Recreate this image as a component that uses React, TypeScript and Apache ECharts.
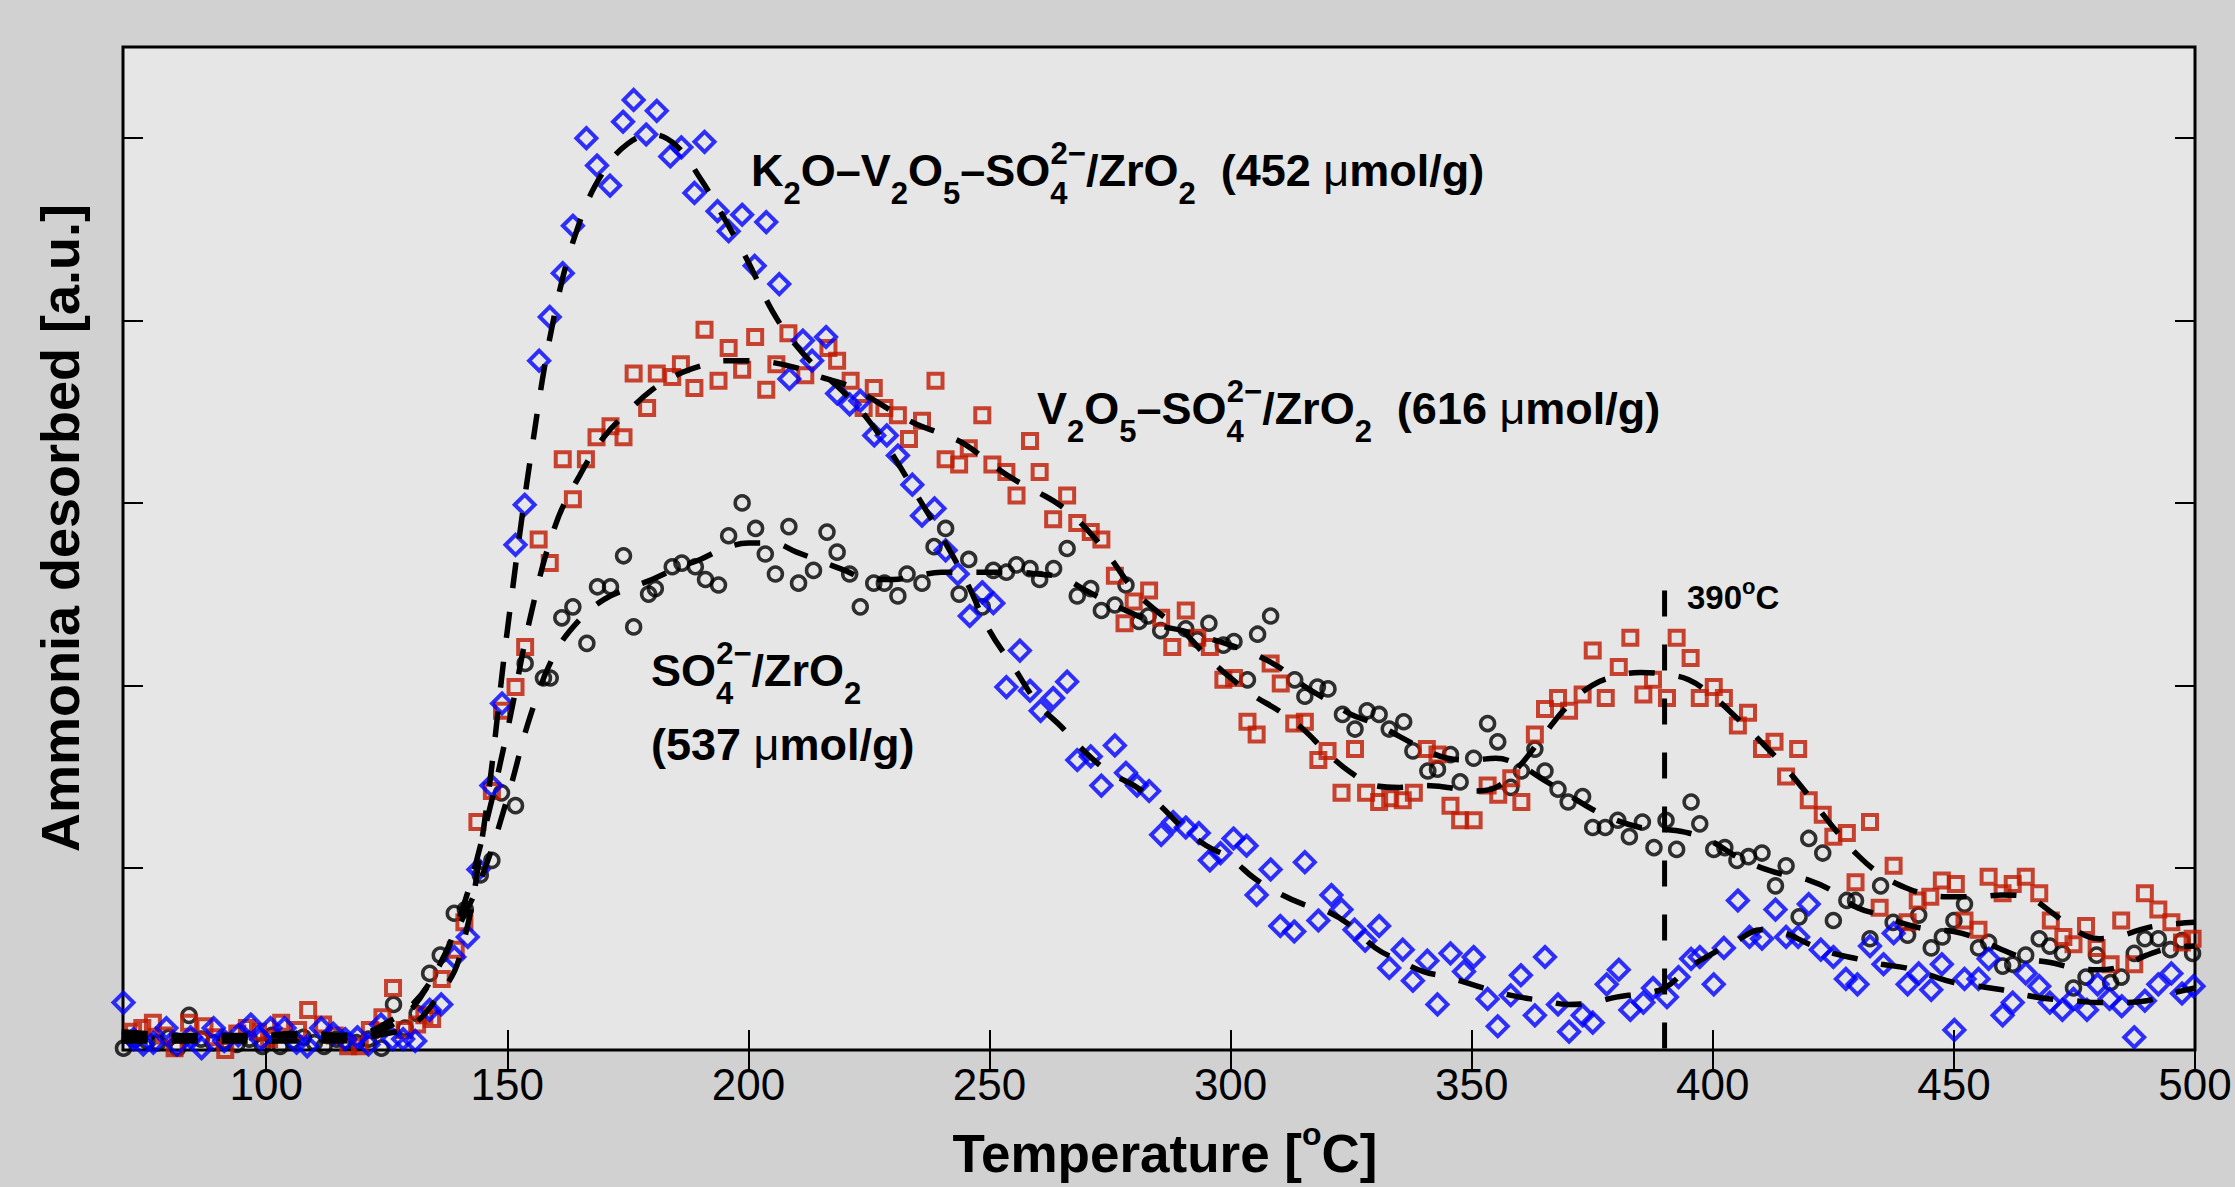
import React, { useEffect, useRef } from 'react';
import * as echarts from 'echarts';

// ---------------- data ----------------
// Temperature [°C] / ammonia desorbed [a.u.] pairs
const k2oV2o5Points: number[][] = [
  [70.4,0.26],[72.5,0.06],[74.5,0.03],[76.6,0.04],[79.3,0.12],[81.5,0.03],[84.3,0.07],[86.6,0.01],[89.1,0.12],[91.3,0.05],
  [94.2,0.08],[96.8,0.14],[98.9,0.06],[100.9,0.12],[103.8,0.12],[106.3,0.04],[108.5,0.02],[111.4,0.12],[113.9,0.09],[116.4,0.06],
  [118.9,0.07],[121.2,0.03],[123.8,0.14],[126.2,0.06],[128.4,0.06],[130.9,0.05],[133.9,0.22],[136.3,0.25],[139.0,0.51],[141.8,0.62],
  [144.0,0.99],[146.7,1.45],[148.9,1.90],[151.7,2.77],[153.6,2.99],[156.6,3.78],[158.8,4.02],[161.5,4.26],[163.6,4.52],[166.4,5.00],
  [168.6,4.85],[171.3,4.74],[174.0,5.09],[176.2,5.21],[178.8,5.02],[181.0,5.15],[183.8,4.90],[186.1,4.95],[188.8,4.70],[190.9,4.98],
  [193.6,4.60],[195.9,4.49],[198.7,4.58],[201.3,4.30],[203.7,4.54],[206.4,4.20],[208.5,3.68],[211.3,3.89],[213.2,3.78],[216.1,3.91],
  [218.4,3.60],[221.0,3.54],[223.2,3.56],[226.1,3.37],[228.7,3.37],[231.0,3.26],[234.0,3.10],[236.0,2.93],[238.6,2.97],[240.9,2.74],
  [243.4,2.61],[245.9,2.38],[248.5,2.51],[250.8,2.45],[253.5,1.99],[256.3,2.19],[258.4,1.97],[260.6,1.86],[263.2,1.93],[266.1,2.02],
  [268.2,1.59],[271.0,1.61],[273.2,1.45],[276.0,1.67],[278.3,1.52],[280.6,1.45],[283.1,1.42],[285.6,1.18],[288.1,1.25],[290.7,1.22],
  [293.4,1.19],[295.7,1.04],[297.9,1.08],[300.6,1.16],[303.3,1.12],[305.4,0.85],[308.3,0.99],[310.3,0.68],[313.2,0.65],[315.4,1.03],
  [318.2,0.71],[320.9,0.85],[323.0,0.77],[325.7,0.66],[327.9,0.60],[330.8,0.68],[332.9,0.45],[335.7,0.55],[337.8,0.38],[340.8,0.49],
  [342.9,0.25],[345.6,0.53],[348.4,0.43],[350.4,0.51],[353.3,0.28],[355.4,0.13],[358.1,0.30],[360.2,0.41],[363.1,0.19],[365.2,0.51],
  [367.9,0.25],[370.2,0.10],[373.0,0.19],[375.1,0.15],[378.0,0.36],[380.5,0.44],[382.9,0.22],[385.6,0.26],[387.6,0.34],[390.5,0.29],
  [392.9,0.40],[395.5,0.50],[397.3,0.51],[400.2,0.36],[402.3,0.56],[405.2,0.82],[407.6,0.62],[410.2,0.61],[413.0,0.77],[415.2,0.62],
  [417.7,0.62],[419.9,0.80],[422.4,0.55],[425.0,0.51],[427.6,0.39],[430.0,0.36],[432.6,0.57],[435.4,0.47],[437.5,0.64],[440.4,0.36],
  [442.7,0.42],[445.3,0.33],[447.5,0.47],[450.1,0.11],[452.2,0.39],[455.1,0.39],[457.2,0.50],[460.1,0.19],[462.2,0.26],[464.9,0.42],
  [467.7,0.35],[469.9,0.26],[472.5,0.22],[474.8,0.28],[477.6,0.22],[479.8,0.36],[482.3,0.28],[484.8,0.24],[487.4,0.07],[489.6,0.27],
  [492.4,0.36],[495.1,0.42],[497.3,0.31],[499.7,0.35]
];

const v2o5Points: number[][] = [
  [70.2,0.19],[72.4,0.10],[74.3,0.12],[76.5,0.15],[78.8,0.08],[81.0,0.01],[84.0,0.15],[87.2,0.13],[89.4,0.07],[91.5,0.00],
  [94.0,0.09],[96.0,0.12],[98.3,0.10],[100.6,0.06],[103.1,0.15],[106.6,0.11],[108.7,0.22],[111.8,0.14],[114.2,0.08],[117.0,0.02],
  [119.4,0.02],[121.5,0.11],[124.1,0.18],[126.3,0.34],[128.7,0.11],[131.3,0.14],[132.8,0.19],[134.4,0.17],[136.4,0.39],[139.3,0.55],
  [141.1,0.70],[143.8,1.25],[146.8,1.42],[148.9,1.86],[151.7,1.99],[153.7,2.21],[156.5,2.80],[158.8,2.67],[161.5,3.24],[163.6,3.02],
  [166.3,3.24],[168.5,3.36],[171.4,3.42],[174.1,3.36],[176.2,3.71],[179.0,3.52],[181.0,3.71],[184.2,3.69],[186.0,3.76],[188.8,3.63],
  [190.9,3.95],[193.8,3.67],[195.9,3.85],[198.7,3.73],[201.4,3.91],[203.7,3.62],[205.8,3.76],[208.3,3.93],[211.8,3.70],[216.6,3.85],
  [218.4,3.78],[221.2,3.67],[223.9,3.52],[226.0,3.63],[228.2,3.52],[231.0,3.48],[233.3,3.35],[236.0,3.45],[238.8,3.67],[240.9,3.24],
  [243.7,3.21],[245.7,3.30],[248.5,3.48],[250.6,3.21],[253.5,3.17],[255.6,3.04],[258.4,3.34],[260.4,3.17],[263.2,2.91],[266.1,3.04],
  [268.2,2.89],[271.0,2.84],[273.2,2.80],[276.0,2.60],[278.0,2.34],[279.9,2.46],[283.1,2.52],[285.6,2.37],[287.9,2.21],[290.7,2.41],
  [293.1,2.26],[295.7,2.21],[298.5,2.03],[300.7,2.04],[303.5,1.80],[305.4,1.73],[308.3,2.12],[310.4,2.01],[313.2,1.79],[315.4,1.80],
  [318.2,1.59],[320.1,1.64],[323.0,1.41],[325.8,1.65],[328.1,1.41],[330.8,1.36],[333.1,1.38],[335.7,1.37],[338.0,1.41],[340.7,1.65],
  [342.9,1.62],[345.6,1.34],[347.6,1.26],[350.4,1.26],[353.3,1.45],[355.5,1.40],[358.2,1.49],[360.3,1.36],[363.1,1.73],[365.2,1.87],
  [367.9,1.93],[370.2,1.86],[373.0,1.95],[375.1,2.19],[377.8,1.93],[380.5,2.10],[382.9,2.26],[385.6,1.95],[387.6,2.03],[390.5,1.93],
  [392.5,2.26],[395.4,2.15],[397.3,1.93],[400.2,1.99],[402.3,1.93],[405.2,1.78],[407.3,1.85],[410.2,1.65],[412.8,1.69],[415.2,1.50],
  [417.7,1.65],[419.9,1.37],[422.8,1.29],[425.0,1.17],[427.8,1.19],[429.6,0.92],[432.6,1.25],[434.6,0.78],[437.5,1.01],[440.4,0.70],
  [442.5,0.82],[445.1,0.84],[447.5,0.93],[450.4,0.91],[452.2,0.71],[455.1,0.66],[457.2,0.95],[460.1,0.86],[462.2,0.91],[464.9,0.95],
  [467.7,0.86],[470.1,0.71],[472.7,0.62],[474.8,0.58],[477.4,0.68],[479.6,0.56],[482.5,0.47],[484.7,0.71],[487.4,0.47],[489.6,0.86],
  [492.4,0.77],[495.1,0.70],[497.3,0.59],[499.5,0.61]
];

const so4Points: number[][] = [
  [70.4,0.01],[72.8,0.06],[75.3,0.05],[77.5,0.04],[79.8,0.07],[81.6,0.01],[84.0,0.19],[86.5,0.06],[89.0,0.04],[91.4,0.05],
  [93.9,0.03],[96.5,0.06],[99.2,0.02],[101.2,0.08],[102.9,0.02],[105.5,0.05],[107.7,0.07],[110.0,0.04],[112.0,0.02],[114.6,0.06],
  [116.5,0.05],[118.7,0.04],[121.2,0.06],[123.9,0.01],[126.4,0.25],[128.8,0.12],[131.3,0.20],[133.9,0.42],[136.1,0.52],[139.0,0.75],
  [141.3,0.77],[144.4,0.96],[146.8,1.04],[148.8,1.41],[151.7,1.34],[153.7,2.12],[157.5,2.04],[158.9,2.04],[161.3,2.37],[163.6,2.43],
  [166.5,2.23],[168.7,2.54],[171.4,2.54],[174.1,2.71],[176.2,2.32],[179.3,2.50],[180.7,2.53],[184.2,2.65],[186.2,2.67],[189.0,2.65],
  [191.1,2.58],[193.8,2.55],[195.9,2.82],[198.7,3.00],[201.5,2.86],[203.5,2.72],[205.6,2.61],[208.4,2.87],[210.4,2.56],[213.5,2.63],
  [216.3,2.84],[218.4,2.73],[221.0,2.61],[223.2,2.43],[226.0,2.56],[228.2,2.56],[231.0,2.49],[232.9,2.61],[236.0,2.56],[238.5,2.76],
  [240.9,2.86],[243.7,2.50],[245.7,2.69],[248.5,2.43],[250.8,2.63],[253.5,2.62],[255.6,2.66],[258.4,2.64],[260.4,2.58],[263.3,2.64],
  [266.1,2.75],[268.2,2.49],[271.0,2.53],[273.2,2.41],[276.0,2.44],[278.3,2.55],[281.0,2.35],[282.9,2.38],[285.5,2.30],[290.7,2.31],
  [293.1,2.25],[295.5,2.34],[298.5,2.22],[300.7,2.24],[303.5,2.03],[305.6,2.28],[308.3,2.38],[313.3,2.03],[315.4,1.94],[318.0,1.99],
  [320.2,1.98],[323.2,1.84],[325.8,1.76],[328.3,1.86],[330.8,1.84],[332.9,1.76],[335.9,1.80],[337.8,1.64],[340.9,1.53],[342.9,1.54],
  [345.6,1.62],[347.6,1.47],[350.4,1.60],[353.3,1.79],[355.4,1.69],[358.1,1.44],[360.3,1.53],[363.1,1.65],[365.2,1.53],[367.9,1.43],
  [370.0,1.36],[373.0,1.39],[375.1,1.22],[377.7,1.22],[380.3,1.26],[382.7,1.17],[385.4,1.25],[387.8,1.11],[390.3,1.26],[392.5,1.10],
  [395.5,1.36],[397.3,1.24],[400.2,1.10],[402.5,1.11],[405.0,1.04],[407.4,1.06],[410.2,1.08],[413.0,0.90],[415.2,1.01],[417.9,0.73],
  [419.9,1.16],[422.8,1.08],[425.0,0.71],[427.8,0.82],[429.6,0.82],[432.6,0.61],[434.8,0.90],[437.4,0.70],[440.4,0.63],[442.7,0.74],
  [445.3,0.56],[447.6,0.62],[450.0,0.71],[452.2,0.80],[455.1,0.56],[457.2,0.59],[460.1,0.46],[462.2,0.47],[464.9,0.52],[467.7,0.61],
  [469.9,0.57],[472.5,0.53],[474.8,0.34],[477.4,0.40],[479.6,0.52],[482.5,0.37],[484.7,0.40],[487.4,0.53],[489.6,0.61],[492.4,0.61],
  [494.9,0.55],[497.3,0.60],[499.5,0.53]
];

// smoothed (dashed) curves, sampled every 5 °C
const fitTemps: number[] = [
  70,75,80,85,90,95,100,105,110,115,120,125,130,135,140,145,150,155,160,165,170,175,180,185,190,195,200,205,210,215,
  220,225,230,235,240,245,250,255,260,265,270,275,280,285,290,295,300,305,310,315,320,325,330,335,340,345,350,355,360,365,
  370,375,380,385,390,395,400,405,410,415,420,425,430,435,440,445,450,455,460,465,470,475,480,485,490,495,500
];
const k2oV2o5Fit: number[] = [
  0.08,0.07,0.07,0.07,0.07,0.07,0.08,0.08,0.07,0.07,
  0.07,0.09,0.13,0.27,0.5,1.2,2.3,3.28,4.06,4.54,
  4.82,4.97,5.02,4.96,4.78,4.56,4.32,4.05,3.86,3.72,
  3.6,3.45,3.26,3.04,2.82,2.58,2.3,2.1,1.9,1.77,
  1.63,1.52,1.45,1.35,1.22,1.12,1.05,0.94,0.86,0.8,
  0.76,0.68,0.56,0.49,0.43,0.4,0.36,0.32,0.29,0.27,
  0.25,0.26,0.29,0.31,0.34,0.45,0.53,0.6,0.66,0.64,
  0.58,0.53,0.5,0.47,0.45,0.41,0.37,0.35,0.33,0.3,
  0.28,0.27,0.26,0.26,0.27,0.31,0.34
];
const v2o5Fit: number[] = [
  0.1,0.09,0.08,0.08,0.08,0.08,0.08,0.09,0.09,0.08,
  0.09,0.15,0.24,0.42,0.72,1.18,1.75,2.4,2.88,3.15,
  3.36,3.5,3.62,3.7,3.75,3.78,3.78,3.77,3.74,3.69,
  3.65,3.58,3.5,3.43,3.38,3.32,3.22,3.13,3.06,2.98,
  2.86,2.7,2.52,2.4,2.3,2.16,2.04,1.94,1.86,1.76,
  1.63,1.52,1.45,1.44,1.45,1.44,1.42,1.44,1.56,1.73,
  1.89,2.0,2.05,2.07,2.06,2.03,1.94,1.82,1.69,1.55,
  1.39,1.22,1.07,0.96,0.89,0.85,0.84,0.84,0.85,0.84,
  0.76,0.66,0.61,0.63,0.67,0.69,0.70
];
const so4Fit: number[] = [
  0.05,0.05,0.05,0.05,0.05,0.05,0.05,0.05,0.05,0.05,
  0.06,0.12,0.22,0.42,0.68,0.97,1.38,1.85,2.18,2.36,
  2.47,2.53,2.58,2.64,2.69,2.75,2.78,2.78,2.73,2.68,
  2.63,2.58,2.58,2.6,2.62,2.62,2.62,2.62,2.61,2.59,
  2.52,2.45,2.39,2.33,2.3,2.26,2.22,2.17,2.1,2.0,
  1.92,1.84,1.79,1.72,1.65,1.6,1.59,1.6,1.56,1.48,
  1.4,1.32,1.26,1.22,1.21,1.19,1.14,1.06,1.0,0.96,
  0.93,0.87,0.78,0.74,0.69,0.66,0.65,0.61,0.55,0.5,
  0.48,0.45,0.44,0.46,0.52,0.56,0.57
];

// vertical marker at 390 °C
const markerLine: number[][] = [[390, 2.52], [390, 0]];

const xTicks: number[] = [100, 150, 200, 250, 300, 350, 400, 450, 500];
const yTicks: number[] = [1, 2, 3, 4, 5];
const xRange: number[] = [70.3, 500];
const yRange: number[] = [0, 5.5];

// ---------------- styling ----------------
const FONT = "'Liberation Sans', Arial, Helvetica, sans-serif";
const BLUE = '#0000ff';
const RED = '#bf1900';
const BLACK = '#000000';

const annRich: any = {
  m: { fontSize: 45, fontWeight: 'bold', fontFamily: FONT, fill: '#000' },
  mu: { fontSize: 45, fontWeight: 'normal', fontFamily: FONT, fill: '#000' },
  s: { fontSize: 31, fontWeight: 'bold', fontFamily: FONT, fill: '#000', padding: [46, 0, 0, 0] },
  p: { fontSize: 31, fontWeight: 'bold', fontFamily: FONT, fill: '#000', padding: [0, 0, 33, -17] },
};

export default function App() {
  const ref = useRef<HTMLDivElement>(null);
  useEffect(() => {
    if (!ref.current) return;
    const chart = echarts.init(ref.current, null, { renderer: 'svg' });
    const fitLine = (vals: number[]) => fitTemps.map((t, i) => [t, vals[i]]);
    const tickStyle = { inside: true, length: 20, lineStyle: { color: '#000', width: 2 } };
    const option: any = {
      animation: false,
      backgroundColor: '#d1d1d1',
      grid: {
        left: 123, right: 40, top: 47, bottom: 137,
        show: true, backgroundColor: '#e6e6e6', borderColor: '#000', borderWidth: 3,
        containLabel: false, outerBoundsMode: 'none',
      },
      xAxis: [
        {
          type: 'value', min: xRange[0], max: xRange[1], position: 'bottom',
          axisLine: { show: false }, splitLine: { show: false },
          axisTick: { ...tickStyle, customValues: xTicks },
          axisLabel: { customValues: xTicks, fontSize: 44, color: '#000', fontFamily: FONT, margin: 12 },
        },
        {
          type: 'value', min: xRange[0], max: xRange[1], position: 'top',
          axisLine: { show: false }, splitLine: { show: false },
          axisTick: { ...tickStyle, customValues: xTicks },
          axisLabel: { show: false },
        },
      ],
      yAxis: [
        {
          type: 'value', min: yRange[0], max: yRange[1], position: 'left',
          axisLine: { show: false }, splitLine: { show: false },
          axisTick: { ...tickStyle, customValues: yTicks },
          axisLabel: { show: false },
        },
        {
          type: 'value', min: yRange[0], max: yRange[1], position: 'right',
          axisLine: { show: false }, splitLine: { show: false },
          axisTick: { ...tickStyle, customValues: yTicks },
          axisLabel: { show: false },
        },
      ],
      series: [
        {
          type: 'scatter', name: 'SO4/ZrO2', data: so4Points, symbol: 'circle', symbolSize: 14,
          itemStyle: { color: 'rgba(0,0,0,0)', borderColor: BLACK, borderWidth: 3.5 },
        },
        {
          type: 'scatter', name: 'V2O5-SO4/ZrO2', data: v2o5Points, symbol: 'rect', symbolSize: 14,
          itemStyle: { color: 'rgba(0,0,0,0)', borderColor: RED, borderWidth: 4 },
        },
        {
          type: 'scatter', name: 'K2O-V2O5-SO4/ZrO2', data: k2oV2o5Points, symbol: 'diamond', symbolSize: 20,
          itemStyle: { color: 'rgba(0,0,0,0)', borderColor: BLUE, borderWidth: 4 },
        },
        ...[so4Fit, v2o5Fit, k2oV2o5Fit].map((vals) => ({
          type: 'line', data: fitLine(vals), showSymbol: false, symbol: 'none', smooth: 0.4, clip: true,
          lineStyle: { color: '#000', width: 5.5, type: [26, 24] },
        })),
        {
          type: 'line', data: markerLine, showSymbol: false, symbol: 'none',
          lineStyle: { color: '#000', width: 5, type: [26, 28] },
        },
      ],
      graphic: [
        {
          type: 'text', x: 751, y: 170, z: 100,
          style: {
            text: '{m|K}{s|2}{m|O–V}{s|2}{m|O}{s|5}{m|–SO}{s|4}{p|2−}{m|/ZrO}{s|2}{m|  (452 }{mu|μ}{m|mol/g)}',
            rich: annRich, align: 'left', verticalAlign: 'middle', fill: '#000', fontFamily: FONT,
          },
        },
        {
          type: 'text', x: 1037, y: 408, z: 100,
          style: {
            text: '{m|V}{s|2}{m|O}{s|5}{m|–SO}{s|4}{p|2−}{m|/ZrO}{s|2}{m|  (616 }{mu|μ}{m|mol/g)}',
            rich: annRich, align: 'left', verticalAlign: 'middle', fill: '#000', fontFamily: FONT,
          },
        },
        {
          type: 'text', x: 651, y: 670, z: 100,
          style: {
            text: '{m|SO}{s|4}{p|2−}{m|/ZrO}{s|2}',
            rich: annRich, align: 'left', verticalAlign: 'middle', fill: '#000', fontFamily: FONT,
          },
        },
        {
          type: 'text', x: 651, y: 744, z: 100,
          style: {
            text: '{m|(537 }{mu|μ}{m|mol/g)}',
            rich: annRich, align: 'left', verticalAlign: 'middle', fill: '#000', fontFamily: FONT,
          },
        },
        {
          type: 'text', x: 1687, y: 597, z: 100,
          style: {
            text: '{a|390}{b|o}{a|C}',
            rich: {
              a: { fontSize: 33, fontWeight: 'bold', fontFamily: FONT, fill: '#000' },
              b: { fontSize: 22, fontWeight: 'bold', fontFamily: FONT, fill: '#000', padding: [0, 0, 22, 0] },
            },
            align: 'left', verticalAlign: 'middle', fill: '#000', fontFamily: FONT,
          },
        },
        {
          type: 'text', x: 1165, y: 1153, z: 100,
          style: {
            text: '{a|Temperature [}{b|o}{a|C]}',
            rich: {
              a: { fontSize: 53, fontWeight: 'bold', fontFamily: FONT, fill: '#000' },
              b: { fontSize: 32, fontWeight: 'bold', fontFamily: FONT, fill: '#000', padding: [0, 0, 38, 0] },
            },
            align: 'center', verticalAlign: 'middle', fill: '#000', fontFamily: FONT,
          },
        },
        {
          type: 'text', x: 60, y: 528, z: 100, rotation: Math.PI / 2,
          style: {
            text: 'Ammonia desorbed [a.u.]', fontSize: 54, fontWeight: 'bold', fontFamily: FONT,
            fill: '#000', align: 'center', verticalAlign: 'middle',
          },
        },
      ],
    };
    chart.setOption(option);
    return () => chart.dispose();
  }, []);
  return (
    <div
      ref={ref}
      style={{ position: 'fixed', left: 0, top: 0, width: 2235, height: 1187 }}
    />
  );
}
